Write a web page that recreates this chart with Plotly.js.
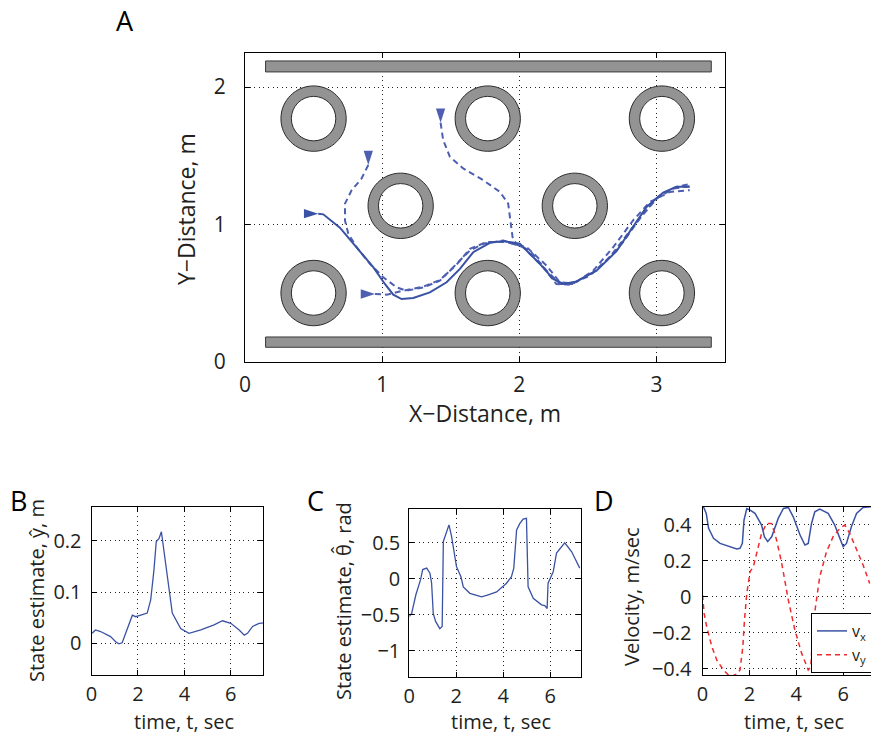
<!DOCTYPE html>
<html>
<head>
<meta charset="utf-8">
<script src="https://cdn.plot.ly/plotly-3.0.1.min.js"></script>
<style>
html,body{margin:0;padding:0;overflow:hidden;background:#fff;}
#chart{width:900px;height:735px;}
</style>
</head>
<body>
<div id="chart"></div>
<script>
// ---------- Panel A: obstacles ----------
const obstacleX = [0.5, 1.77, 3.04, 1.135, 2.405, 0.5, 1.77, 3.04];
const obstacleY = [1.77, 1.77, 1.77, 1.135, 1.135, 0.5, 0.5, 0.5];
const obstacleOuterR = 0.238;
const obstacleInnerR = 0.162;
const wallX0 = [0.15, 0.15];
const wallX1 = [3.40, 3.40];
const wallY0 = [2.11, 0.105];
const wallY1 = [2.19, 0.18];

// ---------- Panel A: trajectories ----------
const solidX = [0.534,0.571,0.692,0.814,0.935,1.02,1.081,1.142,1.227,1.348,1.47,1.567,1.664,1.786,1.883,2.004,2.15,2.247,2.32,2.418,2.563,2.709,2.83,2.928,3.049,3.146,3.243];
const solidY = [1.078,1.073,0.976,0.834,0.688,0.566,0.488,0.456,0.464,0.505,0.578,0.676,0.797,0.866,0.878,0.859,0.712,0.603,0.566,0.585,0.663,0.805,0.98,1.127,1.232,1.273,1.273];

const dash1X = [0.899,0.85,0.778,0.729,0.729,0.753,0.814,0.911,1.008,1.106,1.178,1.30,1.421,1.543,1.64,1.737,1.883,2.028,2.175,2.27,2.369,2.515,2.636,2.757,2.879,3.0,3.122,3.243];
const dash1Y = [1.432,1.334,1.249,1.151,1.029,0.932,0.834,0.712,0.615,0.541,0.517,0.541,0.59,0.712,0.81,0.859,0.883,0.834,0.688,0.566,0.561,0.627,0.737,0.871,1.042,1.188,1.261,1.278];

const dash2X = [1.426,1.445,1.494,1.591,1.737,1.859,1.919,1.936,1.951,1.98,2.077,2.199,2.296,2.393,2.539,2.685,2.83,2.952,3.098,3.243];
const dash2Y = [1.74,1.614,1.492,1.407,1.322,1.236,1.151,1.029,0.907,0.854,0.81,0.663,0.566,0.566,0.663,0.834,1.029,1.163,1.236,1.249];

const dash3X = [0.948,1.033,1.154,1.30,1.421,1.543,1.64,1.762,1.907,2.053,2.199,2.296,2.393,2.539,2.66,2.782,2.903,3.025,3.146,3.243];
const dash3Y = [0.493,0.488,0.517,0.546,0.595,0.707,0.822,0.871,0.871,0.834,0.7,0.578,0.571,0.651,0.761,0.92,1.078,1.212,1.273,1.293];

// arrow directions at trajectory starts (degrees, clockwise from up)
const startAngles = {solid: 90, dash1: 180, dash2: 180, dash3: 90};

// ---------- Panel B: y-hat ----------
const tB = [0.03,0.17,0.39,0.82,1.04,1.18,1.32,1.47,1.61,1.76,1.9,2.12,2.4,2.55,2.69,2.79,2.91,3.01,3.12,3.27,3.48,3.84,4.2,4.71,5.28,5.64,6.0,6.36,6.58,6.72,6.94,7.22,7.44];
const yHat = [0.0195,0.026,0.023,0.013,0.003,-0.001,0.001,0.0195,0.039,0.055,0.052,0.055,0.059,0.085,0.143,0.199,0.205,0.218,0.176,0.13,0.059,0.029,0.0195,0.026,0.036,0.044,0.039,0.026,0.016,0.0195,0.033,0.039,0.04];

// ---------- Panel C: theta-hat ----------
const tC = [0,0.1,0.28,0.38,0.48,0.57,0.74,0.88,0.95,1.02,1.12,1.3,1.4,1.45,1.56,1.69,1.8,2.01,2.2,2.3,2.58,3.08,3.36,3.72,4.14,4.35,4.45,4.57,4.71,4.85,4.99,5.06,5.28,5.63,5.77,5.87,5.91,6.13,6.27,6.62,6.91,7.26];
const thetaHat = [-0.52,-0.48,-0.22,-0.13,-0.01,0.13,0.15,0.08,-0.06,-0.48,-0.59,-0.69,-0.66,0.52,0.63,0.75,0.59,0.17,0.03,-0.11,-0.2,-0.25,-0.22,-0.18,-0.06,0.03,0.15,0.68,0.77,0.83,0.84,-0.11,-0.27,-0.36,-0.37,-0.41,-0.06,0.1,0.36,0.5,0.38,0.15];

// ---------- Panel D: velocities ----------
const tVx = [0.04,0.16,0.26,0.47,0.75,1.18,1.46,1.6,1.7,1.77,1.89,2.03,2.24,2.52,2.64,2.78,2.95,3.23,3.45,3.66,3.87,4.16,4.37,4.51,4.65,4.79,5.0,5.36,5.64,5.86,6.0,6.14,6.35,6.57,6.85,7.18];
const vx = [0.5,0.463,0.38,0.324,0.296,0.278,0.265,0.269,0.296,0.426,0.49,0.481,0.463,0.398,0.333,0.306,0.333,0.435,0.49,0.496,0.444,0.343,0.287,0.296,0.407,0.472,0.487,0.463,0.398,0.324,0.278,0.296,0.389,0.463,0.496,0.5];
const tVy = [0,0.07,0.18,0.4,0.61,0.89,1.18,1.46,1.6,1.72,1.79,1.89,2.03,2.17,2.31,2.52,2.74,2.95,3.16,3.38,3.66,3.94,4.23,4.51,4.62,4.72,4.82,5.0,5.29,5.57,5.86,6.07,6.28,6.57,6.85,7.13];
const vy = [0.009,-0.093,-0.167,-0.278,-0.352,-0.407,-0.445,-0.43,-0.407,-0.278,-0.13,0.019,0.139,0.167,0.241,0.352,0.407,0.407,0.315,0.185,-0.019,-0.185,-0.315,-0.407,-0.389,-0.167,-0.056,0.111,0.25,0.333,0.38,0.398,0.352,0.259,0.176,0.074];

// ---------- text ----------
const panelLabels = ['A', 'B', 'C', 'D'];
const axisTitles = [
  {text: 'X\u2212Distance, m', pos: [485, 413], angle: 0, size: 23},
  {text: 'Y\u2212Distance, m', pos: [186, 209], angle: -90, size: 23},
  {text: 'time, t, sec', pos: [184, 721], angle: 0, size: 20},
  {text: 'State estimate, \u0177, m', pos: [36, 591], angle: -90, size: 20},
  {text: 'time, t, sec', pos: [501, 721], angle: 0, size: 20},
  {text: 'State estimate, \u03b8\u0302, rad', pos: [343, 601], angle: -90, size: 20},
  {text: 'time, t, sec', pos: [794, 721], angle: 0, size: 20},
  {text: 'Velocity, m/sec', pos: [631, 597], angle: -90, size: 20}
];

// ---------- layout helpers ----------
const W = 900, H = 735;
const px = v => v / W;
const py = v => 1 - v / H;
const FONT = 'Open Sans, Liberation Sans, sans-serif';
const TXT = '#231f20';
const BLUE = '#3a52a4';
const BLUE_D = '#4e5fb2';
const RED = '#ee2b2e';
const panelLabelPos = [[125, 20], [18, 500], [315, 500], [604, 500]];

function axisBase(extra) {
  return Object.assign({
    showline: true, linecolor: '#000', linewidth: 1, mirror: 'ticks',
    ticks: 'inside', ticklen: 5, tickcolor: '#000', tickwidth: 1,
    showgrid: true, gridcolor: '#222', gridwidth: 1, griddash: '1px,3.6px',
    zeroline: false, fixedrange: true, automargin: false,
    tickfont: {family: FONT, size: 20, color: TXT}
  }, extra);
}

function circlePath(cx, cy, r, ccw) {
  const k = 0.5523 * r;
  if (!ccw) {
    return `M${cx + r},${cy} C${cx + r},${cy + k} ${cx + k},${cy + r} ${cx},${cy + r} ` +
           `C${cx - k},${cy + r} ${cx - r},${cy + k} ${cx - r},${cy} ` +
           `C${cx - r},${cy - k} ${cx - k},${cy - r} ${cx},${cy - r} ` +
           `C${cx + k},${cy - r} ${cx + r},${cy - k} ${cx + r},${cy} Z`;
  }
  return `M${cx + r},${cy} C${cx + r},${cy - k} ${cx + k},${cy - r} ${cx},${cy - r} ` +
         `C${cx - k},${cy - r} ${cx - r},${cy - k} ${cx - r},${cy} ` +
         `C${cx - r},${cy + k} ${cx - k},${cy + r} ${cx},${cy + r} ` +
         `C${cx + k},${cy + r} ${cx + r},${cy + k} ${cx + r},${cy} Z`;
}

const shapes = [];
for (let i = 0; i < wallX0.length; i++) {
  shapes.push({type: 'rect', xref: 'x', yref: 'y', x0: wallX0[i], x1: wallX1[i], y0: wallY0[i], y1: wallY1[i],
    fillcolor: '#939393', line: {color: '#3a3a3a', width: 1}, layer: 'between'});
}
for (let i = 0; i < obstacleX.length; i++) {
  shapes.push({type: 'path', xref: 'x', yref: 'y',
    path: circlePath(obstacleX[i], obstacleY[i], obstacleOuterR, false) + ' ' + circlePath(obstacleX[i], obstacleY[i], obstacleInnerR, true),
    fillcolor: '#939393', fillrule: 'evenodd', line: {color: '#2a2a2a', width: 1}, layer: 'between'});
}

const traces = [];
function traj(x, y, dashed, color, angle) {
  traces.push({x: x, y: y, xaxis: 'x', yaxis: 'y', mode: 'lines', showlegend: false, hoverinfo: 'skip',
    line: {color: color, width: 2, dash: dashed ? '6px,4px' : 'solid'}});
  traces.push({x: [x[0]], y: [y[0]], xaxis: 'x', yaxis: 'y', mode: 'markers', showlegend: false, hoverinfo: 'skip',
    marker: {symbol: 'arrow', angle: angle, size: 15, color: color, line: {width: 0}}});
}
traj(dash1X, dash1Y, true, BLUE_D, startAngles.dash1);
traj(dash2X, dash2Y, true, BLUE_D, startAngles.dash2);
traj(dash3X, dash3Y, true, BLUE_D, startAngles.dash3);
traj(solidX, solidY, false, BLUE, startAngles.solid);

traces.push({x: tB, y: yHat, xaxis: 'x2', yaxis: 'y2', mode: 'lines', showlegend: false,
  line: {color: BLUE, width: 1.3}});
traces.push({x: tC, y: thetaHat, xaxis: 'x3', yaxis: 'y3', mode: 'lines', showlegend: false,
  line: {color: BLUE, width: 1.3}});
traces.push({x: tVx, y: vx, xaxis: 'x4', yaxis: 'y4', mode: 'lines', name: 'v<sub>x</sub>',
  line: {color: BLUE, width: 1.5}});
traces.push({x: tVy, y: vy, xaxis: 'x4', yaxis: 'y4', mode: 'lines', name: 'v<sub>y</sub>',
  line: {color: RED, width: 1.5, dash: '5px,4px'}});

const annotations = panelLabels.map((t, i) => ({text: t, xref: 'paper', yref: 'paper',
  x: px(panelLabelPos[i][0]), y: py(panelLabelPos[i][1]), xanchor: 'center', yanchor: 'middle',
  showarrow: false, font: {family: FONT, size: 27, color: '#000'}}));
axisTitles.forEach(a => annotations.push({text: a.text, xref: 'paper', yref: 'paper',
  x: px(a.pos[0]), y: py(a.pos[1]), xanchor: 'center', yanchor: 'middle', textangle: a.angle,
  showarrow: false, font: {family: FONT, size: a.size, color: TXT}}));

const layout = {
  width: W, height: H,
  margin: {l: 0, r: 0, t: 0, b: 0},
  paper_bgcolor: '#fff', plot_bgcolor: '#fff',
  font: {family: FONT, color: TXT},
  showlegend: true,
  legend: {x: px(811), y: py(613), xanchor: 'left', yanchor: 'top', bgcolor: '#fff',
    bordercolor: '#000', borderwidth: 1, font: {family: FONT, size: 16, color: TXT},
    tracegroupgap: 0, itemwidth: 30},
  shapes: shapes,
  annotations: annotations,
  xaxis: axisBase({domain: [px(245), px(725)], range: [0, 3.5], tickvals: [0, 1, 2, 3], anchor: 'y',
    ticklabelstandoff: 4, tickfont: {family: FONT, size: 21, color: TXT}}),
  yaxis: axisBase({domain: [py(361.7), py(52.7)], range: [0, 2.25], tickvals: [0, 1, 2], anchor: 'x',
    ticklabelstandoff: 14, tickfont: {family: FONT, size: 21, color: TXT}}),
  xaxis2: axisBase({domain: [px(91.5), px(263.3)], range: [0, 7.4], tickvals: [0, 2, 4, 6], anchor: 'y2',
    ticklabelstandoff: 1}),
  yaxis2: axisBase({domain: [py(675), py(506.7)], range: [-0.062, 0.267], tickvals: [0, 0.1, 0.2], anchor: 'x2',
    ticklabelstandoff: 5}),
  xaxis3: axisBase({domain: [px(409.3), px(580.7)], range: [0, 7.3], tickvals: [0, 2, 4, 6], anchor: 'y3',
    ticklabelstandoff: 1}),
  yaxis3: axisBase({domain: [py(677.3), py(509)], range: [-1.365, 0.97], tickvals: [-1, -0.5, 0, 0.5], anchor: 'x3',
    ticklabelstandoff: 4}),
  xaxis4: axisBase({domain: [px(702.5), px(876)], range: [0, 7.4], tickvals: [0, 2, 4, 6], anchor: 'y4',
    ticklabelstandoff: 1}),
  yaxis4: axisBase({domain: [py(675), py(506.7)], range: [-0.435, 0.5], tickvals: [-0.4, -0.2, 0, 0.2, 0.4], anchor: 'x4',
    ticklabelstandoff: 6})
};

Plotly.newPlot('chart', traces, layout, {staticPlot: true, displayModeBar: false});
</script>
</body>
</html>
